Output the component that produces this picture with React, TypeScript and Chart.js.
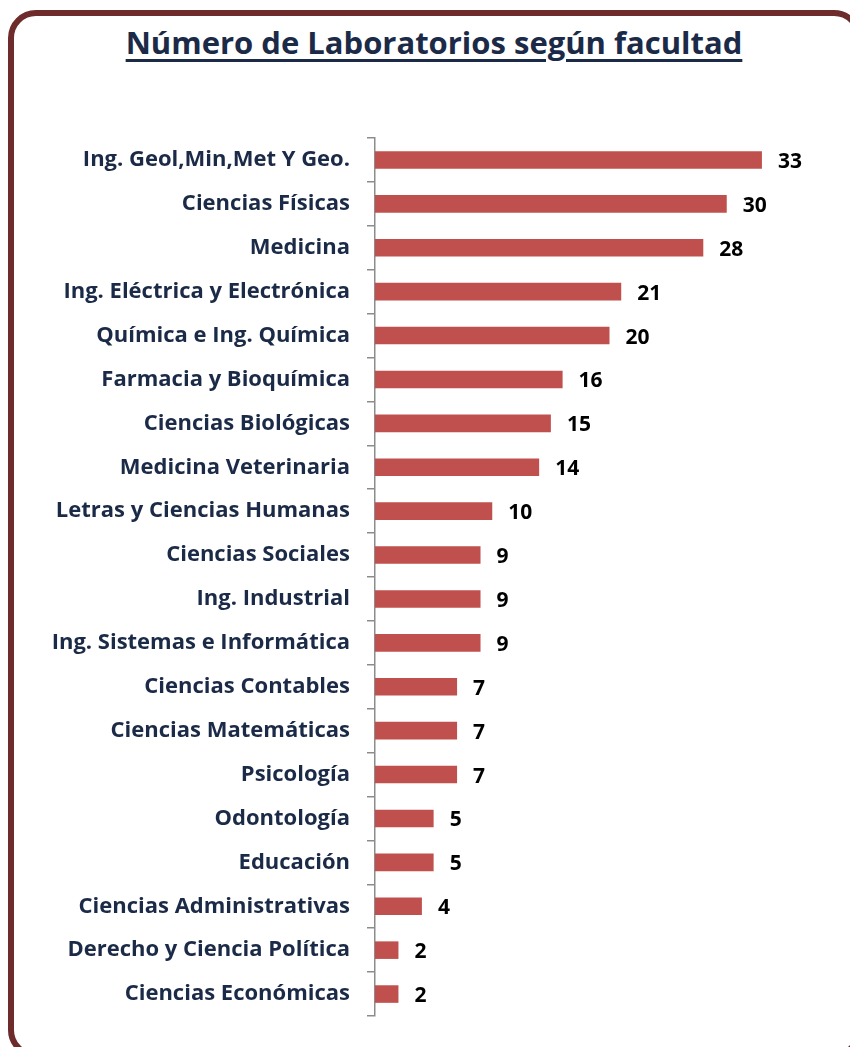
import React, { useEffect, useRef } from "react";
import { Chart, registerables } from "chart.js";
Chart.register(...registerables);

const categories = [
  "Ing. Geol,Min,Met Y Geo.",
  "Ciencias Físicas",
  "Medicina",
  "Ing. Eléctrica y Electrónica",
  "Química e Ing. Química",
  "Farmacia y Bioquímica",
  "Ciencias Biológicas",
  "Medicina Veterinaria",
  "Letras y Ciencias Humanas",
  "Ciencias Sociales",
  "Ing. Industrial",
  "Ing. Sistemas e Informática",
  "Ciencias Contables",
  "Ciencias Matemáticas",
  "Psicología",
  "Odontología",
  "Educación",
  "Ciencias Administrativas",
  "Derecho y Ciencia Política",
  "Ciencias Económicas",
];
const values = [33, 30, 28, 21, 20, 16, 15, 14, 10, 9, 9, 9, 7, 7, 7, 5, 5, 4, 2, 2];
const title = "Número de Laboratorios según facultad";

const FONT = "'Open Sans', sans-serif";

export default function App() {
  const ref = useRef<HTMLCanvasElement>(null);
  useEffect(() => {
    const valueLabels = {
      id: "valueLabels",
      afterDatasetsDraw(chart: any) {
        const ctx = chart.ctx;
        const meta = chart.getDatasetMeta(0);
        ctx.save();
        ctx.font = `bold 21px ${FONT}`;
        ctx.fillStyle = "#000000";
        ctx.textAlign = "left";
        ctx.textBaseline = "middle";
        meta.data.forEach((bar: any, i: number) => {
          ctx.fillText(String(values[i]), bar.x + 16, bar.y + 2);
        });
        ctx.restore();
      },
    };
    const chart = new Chart(ref.current as HTMLCanvasElement, {
      type: "bar",
      data: {
        labels: categories,
        datasets: [
          {
            data: values,
            backgroundColor: "#c0504d",
            barPercentage: 0.4,
            categoryPercentage: 1,
          },
        ],
      },
      options: {
        indexAxis: "y",
        responsive: false,
        animation: false,
        layout: { padding: { top: 138, bottom: 31, left: 0, right: 6 } },
        plugins: { legend: { display: false }, tooltip: { enabled: false } },
        scales: {
          x: { display: false, min: 0, max: 40 },
          y: {
            afterFit: (s: any) => {
              s.width = 375;
            },
            grid: {
              offset: true,
              drawOnChartArea: false,
              drawTicks: true,
              tickLength: 8,
              color: "#8c8c8c",
              lineWidth: 1.5,
            },
            border: { display: true, color: "#8c8c8c", width: 1.5 },
            ticks: {
              padding: 17,
              color: "#1b2a47",
              font: { family: FONT, weight: "bold", size: 22 },
            },
          },
        },
      },
      plugins: [valueLabels],
    } as any);
    return () => chart.destroy();
  }, []);

  return (
    <div
      style={{
        position: "absolute",
        left: 0,
        top: 0,
        width: 850,
        height: 1047,
        overflow: "hidden",
        background: "#ffffff",
      }}
    >
      <div
        style={{
          position: "absolute",
          left: 8,
          top: 10,
          width: 854,
          height: 1048,
          border: "6px solid #6e2b2b",
          borderRadius: 28,
          boxSizing: "border-box",
        }}
      />
      <div
        style={{
          position: "absolute",
          left: 18,
          top: 22,
          width: 832,
          textAlign: "center",
          fontFamily: FONT,
          fontWeight: "bold",
          fontSize: 31,
          lineHeight: "40px",
          color: "#1b2a47",
          textDecoration: "underline",
          textDecorationThickness: 3,
          textUnderlineOffset: 5,
          whiteSpace: "nowrap",
        }}
      >
        {title}
      </div>
      <canvas
        ref={ref}
        width={850}
        height={1047}
        style={{ position: "absolute", left: 0, top: 0 }}
      />
    </div>
  );
}
